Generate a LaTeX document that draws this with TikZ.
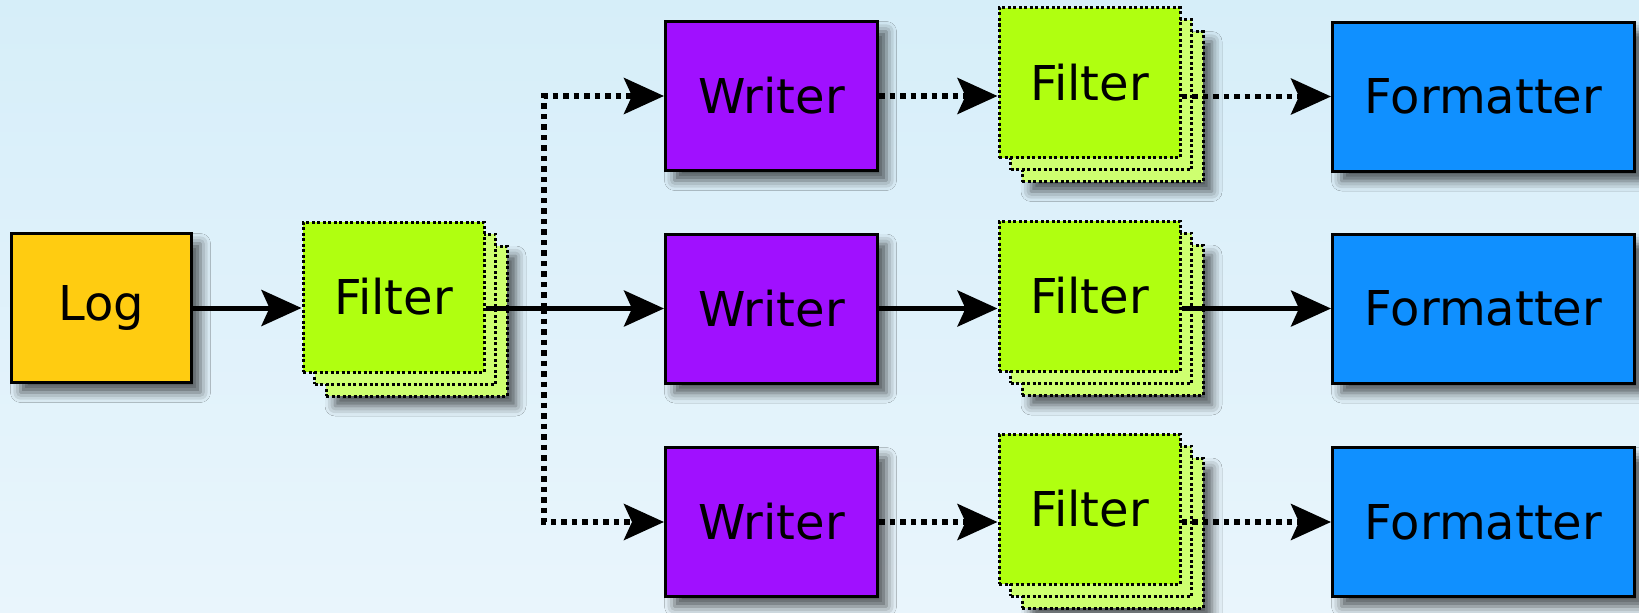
\documentclass[tikz,border=0pt]{standalone}
\usepackage{fontspec}
\setmainfont{DejaVu Sans}
\usetikzlibrary{arrows.meta,shadows.blur}
\definecolor{logyellow}{RGB}{255,204,17}
\definecolor{writerpurple}{RGB}{160,16,255}
\definecolor{fmtblue}{RGB}{16,144,255}
\definecolor{filtergreen}{RGB}{176,255,16}
\definecolor{filterpale}{RGB}{206,255,112}
\definecolor{skytop}{RGB}{214,238,249}
\definecolor{skybottom}{RGB}{233,245,252}
\begin{document}
\begin{tikzpicture}[x=1pt, y=-1pt,
    font=\fontsize{48}{57}\selectfont,
    boxshadow/.style={blur shadow={shadow xshift=9pt, shadow yshift=-10pt,
      shadow blur radius=10pt, shadow opacity=65}},
    box/.style={draw=black, line width=3pt, inner sep=0pt, minimum height=149pt, boxshadow},
    filterbox/.style={draw=black, line width=3pt, dash pattern=on 3pt off 2.5pt,
      inner sep=0pt, minimum width=181pt, minimum height=150pt},
    flow/.style={line width=5pt, -{Stealth[length=40pt, width=36pt, inset=8pt]}},
    flowdot/.style={flow, line width=5.5pt, dash pattern=on 5.5pt off 5pt}]
    \fill[top color=skytop, bottom color=skybottom] (0,0) rectangle (1639,613);
    \useasboundingbox (0,0) rectangle (1639,613);
    \node[box, fill=logyellow, minimum width=180pt] (log) at (101.5,308) {Log};
    \foreach \n/\x/\y in {f0/393.5/297, f1/1089.5/82.5, f2/1089.5/296, f3/1089.5/509} {
        \node[filterbox, fill=filterpale, boxshadow] (\n-c) at (\x+23,\y+24) {};
        \node[filterbox, fill=filterpale] (\n-b) at (\x+11.5,\y+12) {};
        \node[filterbox, fill=filtergreen] (\n) at (\x,\y) {Filter};
    }
    \foreach \n/\y in {w1/96, w2/308.5, w3/522}
        \node[box, fill=writerpurple, minimum width=212pt] (\n) at (771.5,\y) {Writer};
    \foreach \n/\y in {m1/96.5, m2/308.5, m3/522}
        \node[box, fill=fmtblue, minimum width=302pt] (\n) at (1483.5,\y) {Formatter};
    \coordinate (split) at (544,308);
    \draw[flow] (log.east) -- (log.east -| f0.west);
    \draw[flow] (f0.east |- w2.west) -- (w2.west);
    \draw[flowdot] (split) |- (w1.west);
    \draw[flowdot] (split) |- (w3.west);
    \draw[flowdot] (w1.east) -- (w1.east -| f1.west);
    \draw[flow] (w2.east) -- (w2.east -| f2.west);
    \draw[flowdot] (w3.east) -- (w3.east -| f3.west);
    \draw[flowdot] (f1.east |- m1.west) -- (m1.west);
    \draw[flow] (f2.east |- m2.west) -- (m2.west);
    \draw[flowdot] (f3.east |- m3.west) -- (m3.west);
\end{tikzpicture}
\end{document}
